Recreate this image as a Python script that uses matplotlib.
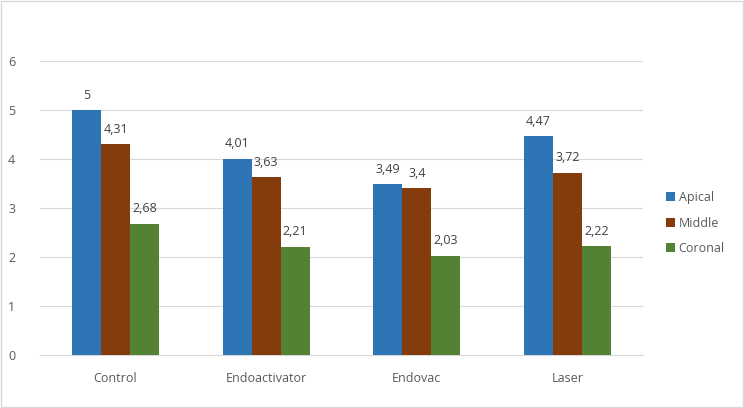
import numpy as np
import matplotlib
matplotlib.use("Agg")
import matplotlib.pyplot as plt

categories = ["Control", "Endoactivator", "Endovac", "Laser"]
apical = [5, 4.01, 3.49, 4.47]
middle = [4.31, 3.63, 3.4, 3.72]
coronal = [2.68, 2.21, 2.03, 2.22]
series = ["Apical", "Middle", "Coronal"]
colors = ["#2E75B6", "#843C0C", "#548235"]

plt.rcParams["font.family"] = ["Open Sans", "DejaVu Sans"]

fig = plt.figure(figsize=(7.44, 4.08), dpi=100)
ax = fig.add_axes([0.054, 0.130, 0.810, 0.720])

x = np.arange(len(categories))
w = 0.192
for i, (name, vals, c) in enumerate(zip(series, [apical, middle, coronal], colors)):
    bars = ax.bar(x + (i - 1) * w, vals, w, color=c, label=name, zorder=3)
    labels = [str(v).replace(".", ",") for v in vals]
    ax.bar_label(bars, labels=labels, padding=6, fontsize=9, color="#404040")

ax.set_xlim(-0.5, 3.5)
ax.set_ylim(0, 6)
ax.set_yticks(range(7))
ax.set_xticks(x)
ax.set_xticklabels(categories)
ax.grid(axis="y", color="#D9D9D9", linewidth=0.8, zorder=0)
for s in ["top", "right", "left"]:
    ax.spines[s].set_visible(False)
ax.spines["bottom"].set_color("#D9D9D9")
ax.tick_params(axis="both", length=0, labelsize=9, colors="#595959", pad=12)
ax.tick_params(axis="y", pad=18)

ax.legend(loc="center left", bbox_to_anchor=(1.02, 0.449), frameon=False,
          fontsize=9, handlelength=0.7, handleheight=0.7, handletextpad=0.3,
          labelspacing=1.0, labelcolor="#595959")

fig.patches.append(plt.Rectangle((0.002, 0.002), 0.996, 0.996, transform=fig.transFigure,
                                 fill=False, edgecolor="#D9D9D9", linewidth=1))

fig.savefig("out.png", dpi=100)
